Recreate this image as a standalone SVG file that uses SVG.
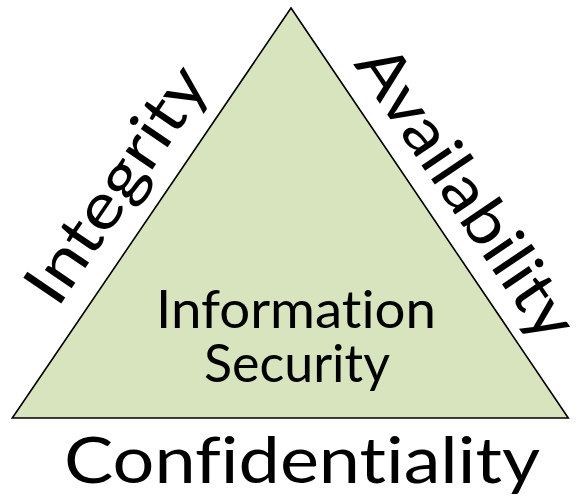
<svg xmlns="http://www.w3.org/2000/svg" width="581" height="502" viewBox="0 0 581 502">
<style>
.lbl{font-family:Lato,"Open Sans","Liberation Sans",sans-serif;fill:#000;font-variant-ligatures:none;font-feature-settings:"liga" 0,"clig" 0;}
.big{font-size:64px;}
.mid{font-size:53px;}
</style>
<rect width="581" height="502" fill="#ffffff"/>
<g id="triangle">
<polygon points="291,8 12.3,418 568.3,418" fill="#d7e4bd" stroke="#000" stroke-width="1.6" stroke-linejoin="miter"/>
<text class="lbl mid"><tspan x="156" y="328" textLength="280" lengthAdjust="spacingAndGlyphs">Information</tspan><tspan x="204" y="382" textLength="186" lengthAdjust="spacingAndGlyphs">Security</tspan></text>
</g>
<g id="integrity">
<text class="lbl big" transform="translate(57.6,309.1) rotate(-55.8)" x="0" y="0" textLength="272" lengthAdjust="spacingAndGlyphs">Integrity</text>
</g>
<g id="availability">
<text class="lbl big" transform="translate(353,64) rotate(55.9)" x="0" y="0" textLength="340" lengthAdjust="spacingAndGlyphs">Availability</text>
</g>
<g id="confidentiality">
<text class="lbl big" x="64" y="483" textLength="476" lengthAdjust="spacingAndGlyphs">Confidentiality</text>
</g>
<g id="connectors"></g>
</svg>
